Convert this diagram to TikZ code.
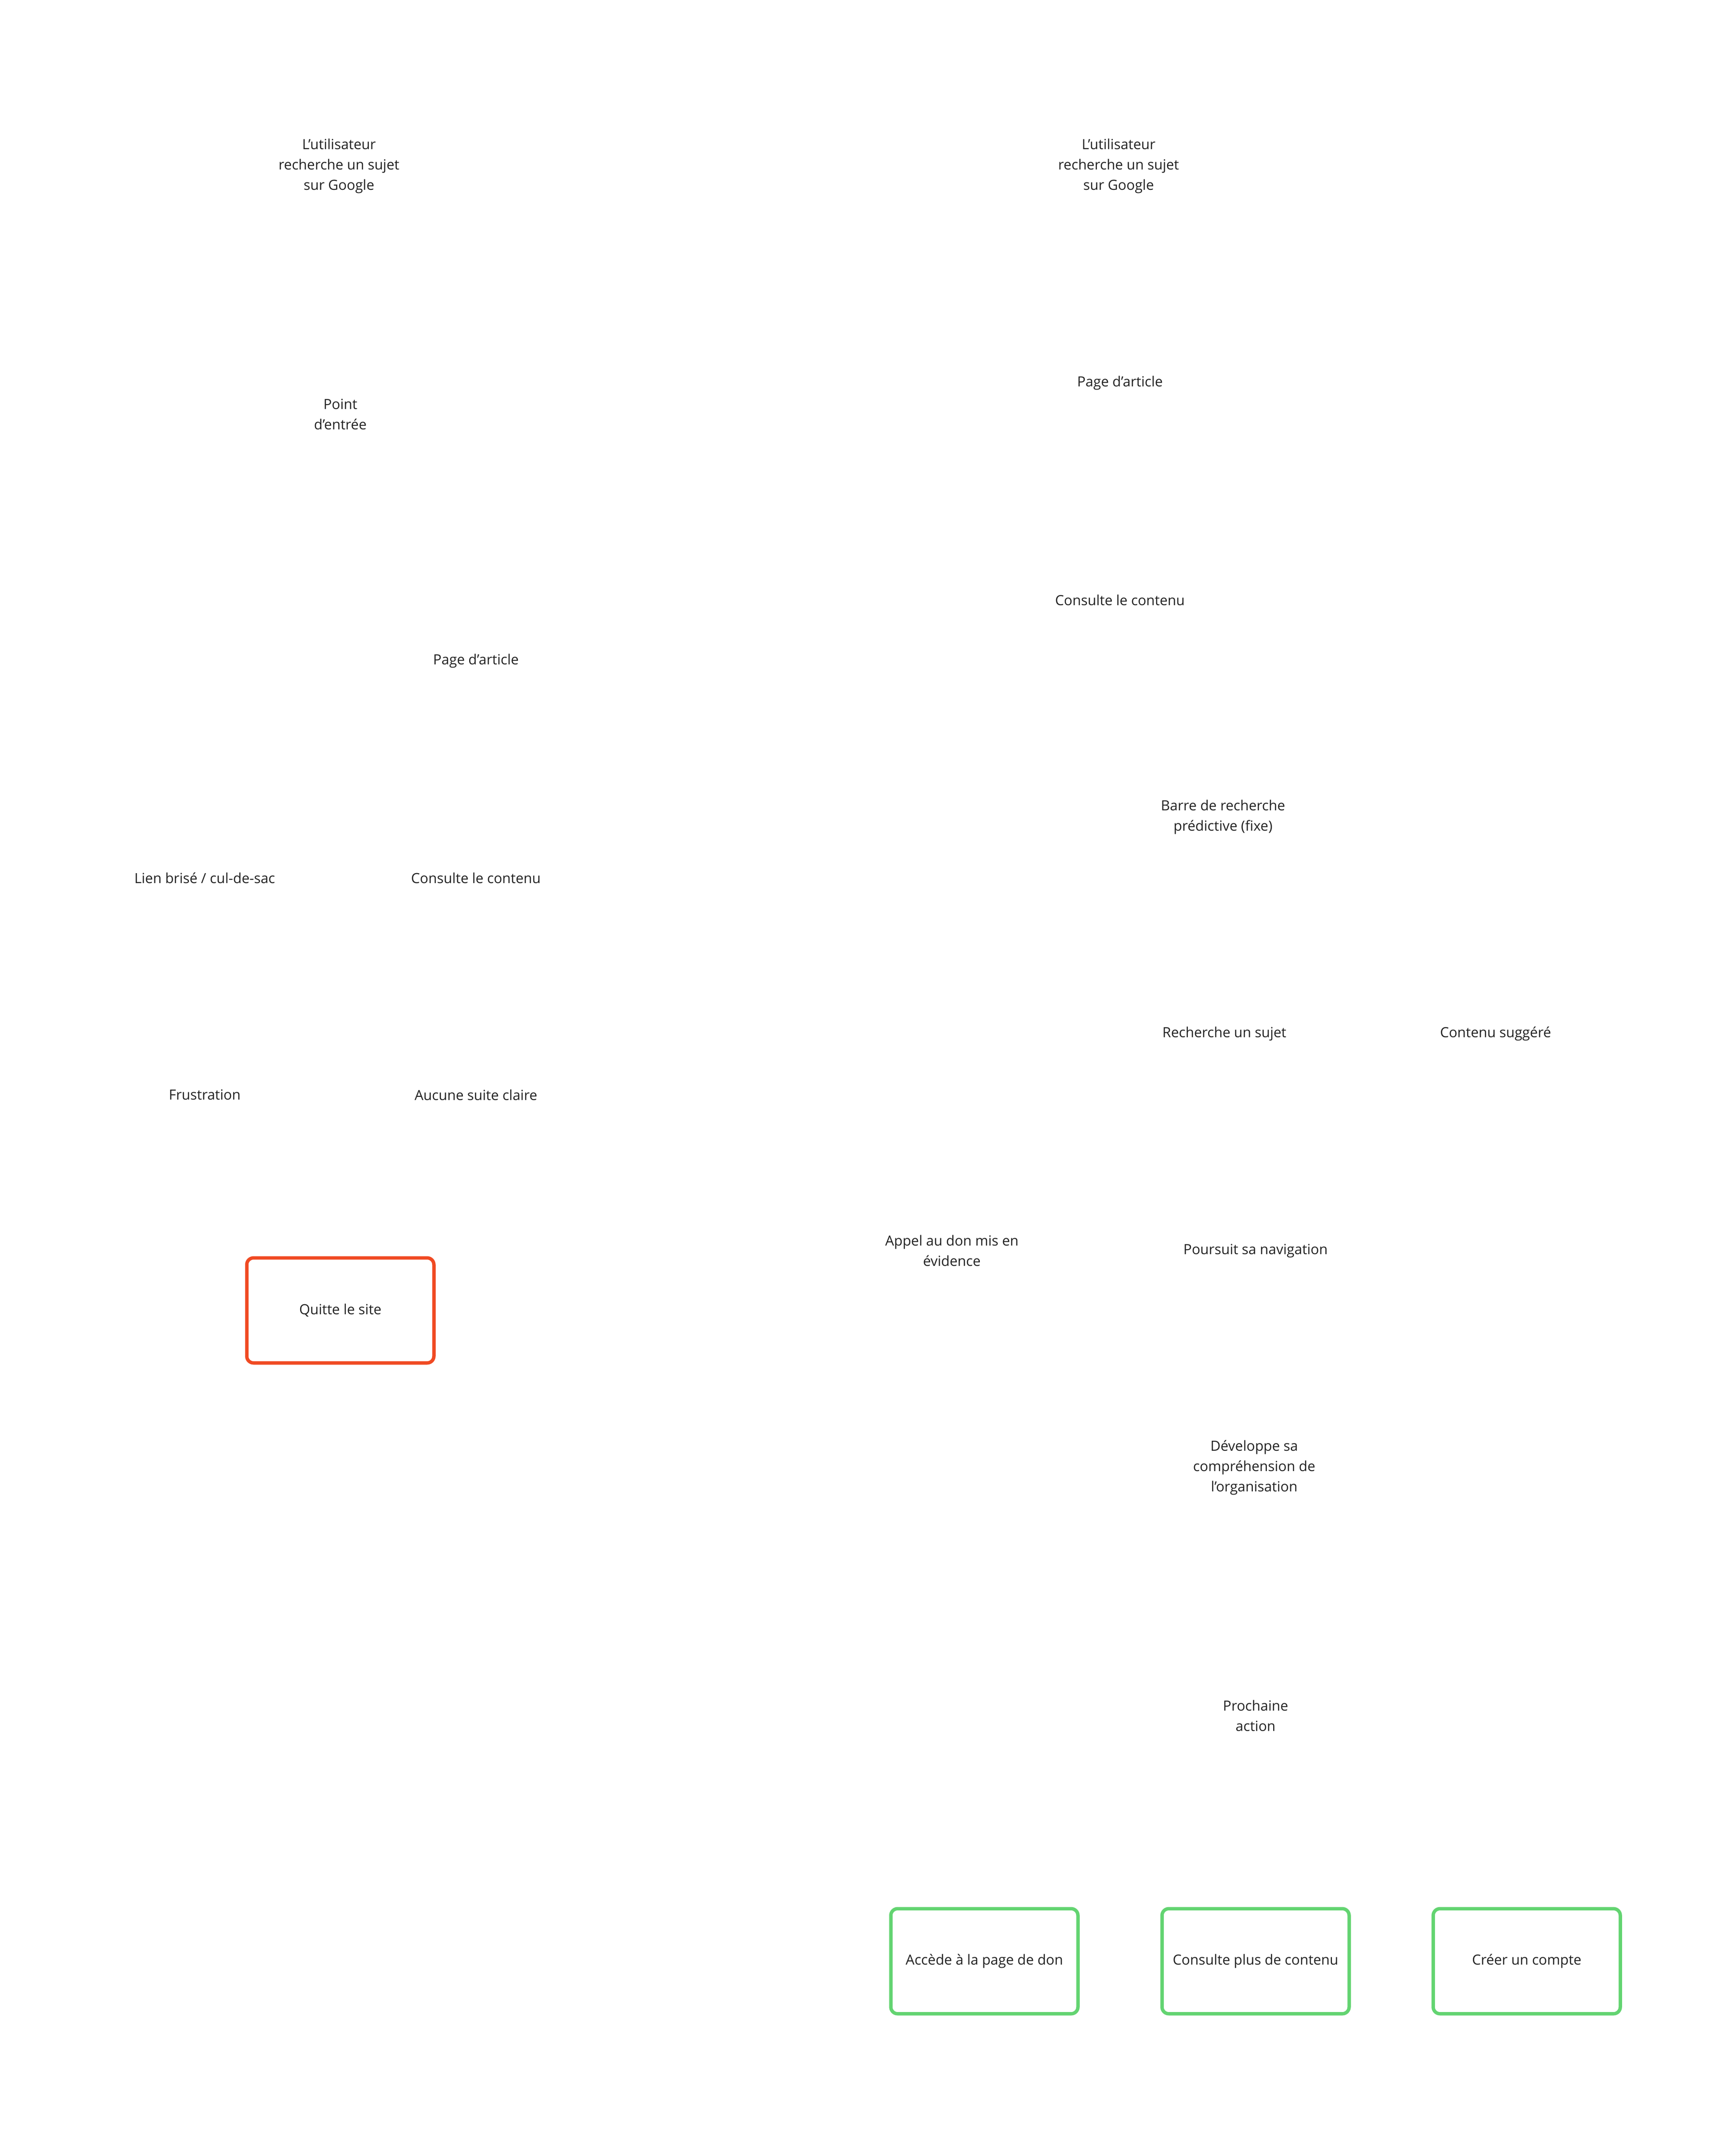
\documentclass[tikz,border=0pt]{standalone}
\usepackage{fontspec}
\setmainfont{Open Sans}
\definecolor{texte}{HTML}{222222}
\definecolor{sortie}{HTML}{F04A23}
\definecolor{issue}{HTML}{63D471}
\tikzset{
	etape/.style={align=center,text=texte,font=\fontsize{10.3bp}{15bp}\selectfont},
	fin/.style={etape,draw,line width=2.5bp,rounded corners=5bp,minimum width=138bp,minimum height=77.5bp}
}
\begin{document}
\begin{tikzpicture}[x=1bp,y=-1bp]
	\useasboundingbox[fill=white] (0,0) rectangle (1280,1571);
	% parcours actuel
	\node[etape] (g1) at (250,122.5) {L’utilisateur\\recherche un sujet\\sur Google};
	\node[etape] (entree) at (251,305.5) {Point\\d’entrée};
	\node[etape] (article1) at (351,487.5) {Page d’article};
	\node[etape] (lien) at (151,647.5) {Lien brisé / cul-de-sac};
	\node[etape] (contenu1) at (351,647.5) {Consulte le contenu};
	\node[etape] (frustration) at (151,807.5) {Frustration};
	\node[etape] (aucune) at (351,807.5) {Aucune suite claire};
	\node[fin,draw=sortie] (quitte) at (251,966.5) {Quitte le site};
	% parcours propose
	\node[etape] (g2) at (825,122.5) {L’utilisateur\\recherche un sujet\\sur Google};
	\node[etape] (article2) at (826,282.5) {Page d’article};
	\node[etape] (contenu2) at (826,442.5) {Consulte le contenu};
	\node[etape] (barre) at (902,602.5) {Barre de recherche\\prédictive (fixe)};
	\node[etape] (sujet) at (903,762.5) {Recherche un sujet};
	\node[etape] (suggere) at (1103,762.5) {Contenu suggéré};
	\node[etape] (appel) at (702,922.5) {Appel au don mis en\\évidence};
	\node[etape] (poursuit) at (926,922.5) {Poursuit sa navigation};
	\node[etape] (comprend) at (925,1082.5) {Développe sa\\compréhension de\\l’organisation};
	\node[etape] (prochaine) at (926,1265.5) {Prochaine\\action};
	\node[fin,draw=issue] (don) at (726,1446.5) {Accède à la page de don};
	\node[fin,draw=issue] (plus) at (926,1446.5) {Consulte plus de contenu};
	\node[fin,draw=issue] (compte) at (1126,1446.5) {Créer un compte};
\end{tikzpicture}
\end{document}
